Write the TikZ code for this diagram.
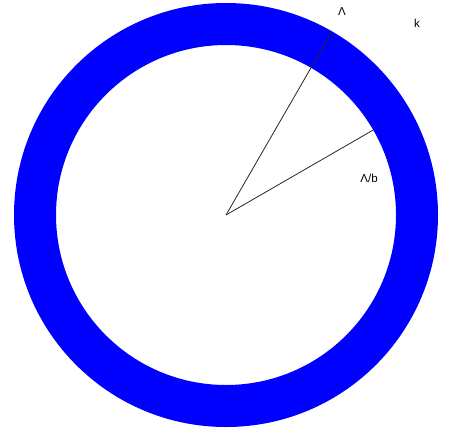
\documentclass[tikz,border=0pt]{standalone}
\usepackage{fontspec}
\setmainfont{Liberation Sans}
\begin{document}
\begin{tikzpicture}[x=1pt,y=-1pt,
  lbl/.style={font=\fontsize{11.5}{13}\selectfont, inner sep=0pt},
  ray/.style={draw=black!85, line width=0.8pt}]
\useasboundingbox (0,0) rectangle (454,434);
\coordinate (c) at (226,215);
\fill[blue, even odd rule] (c) circle[radius=212] (c) circle[radius=170];
\coordinate (a) at (332,31.4);
\coordinate (b) at (373.2,130);
\draw[ray] (c) -- (a);
\draw[ray] (c) -- (b);
\node[lbl] (L) at (342,12) {Λ};
\node[lbl] (k) at (417,23) {k};
\node[lbl] (Lb) at (369,178) {Λ/b};
\end{tikzpicture}
\end{document}
